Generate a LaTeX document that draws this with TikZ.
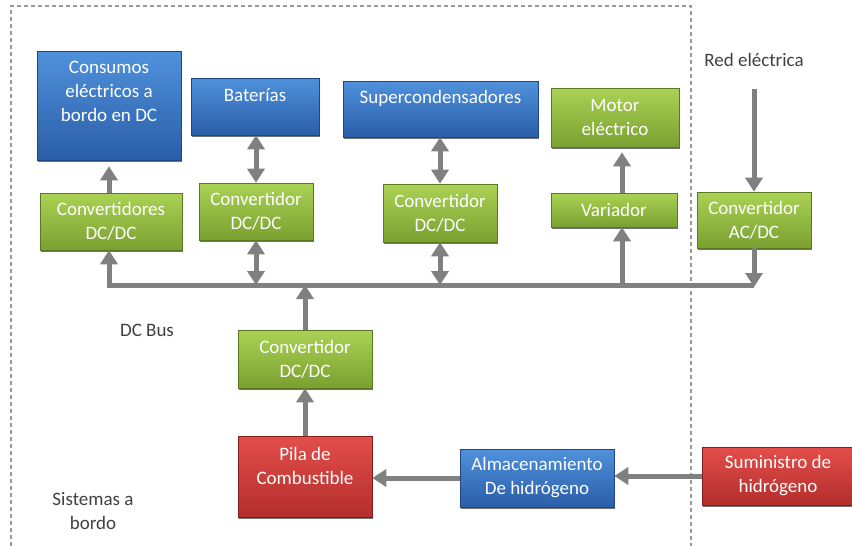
\documentclass[tikz,border=0pt]{standalone}
\usepackage{fontspec}
\setmainfont{Carlito}
\usetikzlibrary{arrows.meta,shadows}
\definecolor{bluT}{RGB}{80,145,220}
\definecolor{bluB}{RGB}{42,94,168}
\definecolor{bluD}{RGB}{30,70,130}
\definecolor{grnT}{RGB}{170,210,84}
\definecolor{grnB}{RGB}{122,160,48}
\definecolor{grnD}{RGB}{90,120,35}
\definecolor{redT}{RGB}{228,78,74}
\definecolor{redB}{RGB}{178,46,44}
\definecolor{redD}{RGB}{130,30,30}
\definecolor{arrgray}{RGB}{128,128,128}
\definecolor{notegray}{RGB}{64,64,64}
\begin{document}
\begin{tikzpicture}[x=1pt,y=-1pt,
  box/.style={rectangle, inner sep=0pt, line width=0.6pt,
    drop shadow={shadow xshift=1.2pt,shadow yshift=-1.8pt,opacity=0.55,fill=black},
    text=white, align=center, font=\fontsize{19}{24}\selectfont},
  bluebox/.style={box, top color=bluT, bottom color=bluB, draw=bluD},
  greenbox/.style={box, top color=grnT, bottom color=grnB, draw=grnD},
  redbox/.style={box, top color=redT, bottom color=redB, draw=redD},
  lbl/.style={text=white, align=center, inner sep=0pt, font=\fontsize{19}{24}\selectfont},
  note/.style={text=notegray, align=center, inner sep=0pt, font=\fontsize{19}{24}\selectfont},
  arr/.style={draw=arrgray, line width=5pt, -{Triangle[width=17pt,length=14pt]}},
  darr/.style={draw=arrgray, line width=5pt, {Triangle[width=17pt,length=14pt]}-{Triangle[width=17pt,length=14pt]}},
  bus/.style={draw=arrgray, line width=5pt},
  frame/.style={draw=gray!80, line width=1.2pt, dash pattern=on 4pt off 3pt}
]
\useasboundingbox (0,0) rectangle (852,546);
\fill[white] (0,0) rectangle (852,546);

% dashed frame
\draw[frame] (11,560) -- (11,6) -- (691,6) -- (691,560);

% boxes
\node[bluebox, minimum width=144pt, minimum height=109pt] (cons) at (109,105.5) {};
\node[lbl] (consT) at (109,91.5) {Consumos\\eléctricos a\\bordo en DC};
\node[bluebox, minimum width=128pt, minimum height=57pt] (bat) at (255,106.5) {};
\node[lbl] (batT) at (255,95) {Baterías};
\node[bluebox, minimum width=195pt, minimum height=56pt] (sup) at (440.5,109) {};
\node[lbl] (supT) at (440.5,98) {Supercondensadores};
\node[greenbox, minimum width=128pt, minimum height=59pt] (mot) at (615,117.5) {Motor\\eléctrico};

\node[greenbox, minimum width=142pt, minimum height=57pt] (convs) at (111,221.5) {Convertidores\\DC/DC};
\node[greenbox, minimum width=114pt, minimum height=57pt] (cbat) at (256,211.5) {Convertidor\\DC/DC};
\node[greenbox, minimum width=114pt, minimum height=58pt] (csup) at (440,213) {Convertidor\\DC/DC};
\node[greenbox, minimum width=126pt, minimum height=34pt] (var) at (614,210) {Variador};
\node[greenbox, minimum width=114pt, minimum height=56pt] (acdc) at (754,220) {Convertidor\\AC/DC};

\node[greenbox, minimum width=134pt, minimum height=58pt] (mconv) at (305,359) {Convertidor\\DC/DC};
\node[redbox, minimum width=134pt, minimum height=81pt] (pila) at (305,476.5) {};
\node[lbl] (pilaT) at (305,466) {Pila de\\Combustible};
\node[bluebox, minimum width=154pt, minimum height=58pt] (alm) at (537,478) {Almacenamiento\\De hidrógeno};
\node[redbox, minimum width=152pt, minimum height=58pt] (sum) at (778,476) {Suministro de\\hidrógeno};

% notes
\node[note] (red) at (754,60) {Red eléctrica};
\node[note] (dcbus) at (147,330) {DC Bus};
\node[note] (sist) at (93,511) {Sistemas a\\bordo};

% bus
\coordinate (bL) at (106.5,285);
\draw[bus] (bL) -- (acdc.south |- bL);

% connectors
\draw[arr, shorten >=6pt] (cons.south |- convs.north) -- (cons.south);
\draw[arr] (cons.south |- bL) -- (cons.south |- convs.south);

\draw[darr] (cbat.north) -- (cbat.north |- bat.south);
\draw[darr] (cbat.south) -- (cbat.south |- bL);

\draw[darr] (csup.north) -- (csup.north |- sup.south);
\draw[darr] (csup.south) -- (csup.south |- bL);

\coordinate (vx) at ([xshift=8pt]var.south);
\coordinate (vxn) at ([xshift=8pt]var.north);
\draw[arr] (vx |- bL) -- (vx);
\draw[arr, shorten >=5pt] (vxn) -- (vxn |- mot.south);

\coordinate (redA) at (754,89);
\draw[arr] (redA) -- (acdc.north);
\draw[arr] (acdc.south) -- ([yshift=-2pt]acdc.south |- bL);

\draw[arr] (mconv.north) -- (mconv.north |- bL);
\draw[arr] (pila.north) -- (mconv.south);
\draw[arr] (alm.west) -- (pila.east |- alm.west);
\draw[arr] (sum.west) -- (alm.east |- sum.west);
\end{tikzpicture}
\end{document}
